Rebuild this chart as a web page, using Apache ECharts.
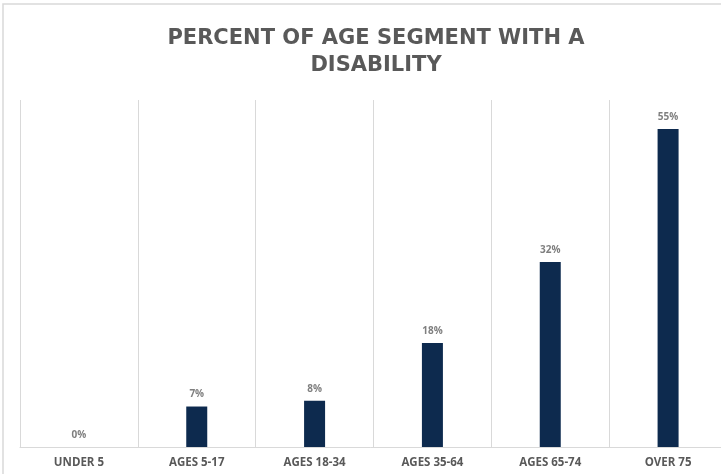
<!DOCTYPE html>
<html><head><meta charset="utf-8">
<script src="https://cdn.jsdelivr.net/npm/echarts@6/dist/echarts.min.js"></script>
<style>html,body{margin:0;padding:0;background:#fff}#c{width:721px;height:474px}</style>
</head><body><div id="c"></div>
<script>
const titleText = 'PERCENT OF AGE SEGMENT WITH A\nDISABILITY';
const categories = ['UNDER 5', 'AGES 5-17', 'AGES 18-34', 'AGES 35-64', 'AGES 65-74', 'OVER 75'];
const values = [0, 7, 8, 18, 32, 55];

const chart = echarts.init(document.getElementById('c'), null, {renderer: 'canvas'});
chart.setOption({
  animation: false,
  backgroundColor: '#fff',
  graphic: [{
    type: 'polyline', silent: true,
    shape: {points: [[3, 474], [3, 4], [721, 4]]},
    style: {stroke: '#d9d9d9', lineWidth: 1.5, fill: null}
  }],
  title: {
    text: titleText,
    left: 371, top: 20, textAlign: 'center',
    textStyle: {fontFamily: 'DejaVu Sans', fontWeight: 'bold', fontSize: 21, color: '#595959', lineHeight: 27}
  },
  grid: {left: 20, width: 707, top: 100, bottom: 27, containLabel: false, outerBoundsMode: 'none'},
  xAxis: [{
    type: 'category', data: categories,
    axisLine: {show: true, lineStyle: {color: '#d9d9d9', width: 1}},
    axisTick: {show: false},
    splitLine: {show: false},
    axisLabel: {color: '#595959', fontFamily: 'Open Sans', fontWeight: 'bold', fontSize: 11.5, margin: 10}
  }, {
    type: 'value', min: 0, max: categories.length, interval: 1, position: 'top',
    axisLine: {show: false}, axisTick: {show: false}, axisLabel: {show: false},
    splitLine: {show: true, showMaxLine: false, lineStyle: {color: '#d9d9d9', width: 1}}
  }],
  yAxis: {type: 'value', min: 0, max: 60, show: false, splitLine: {show: false}},
  series: [{
    type: 'bar', data: values, barWidth: 21, xAxisIndex: 0,
    itemStyle: {color: '#0d2a4e'},
    label: {show: true, position: 'top', distance: 7, formatter: '{c}%', color: '#7f7f7f',
            fontFamily: 'Open Sans', fontWeight: 'bold', fontSize: 10}
  }]
});
</script></body></html>
